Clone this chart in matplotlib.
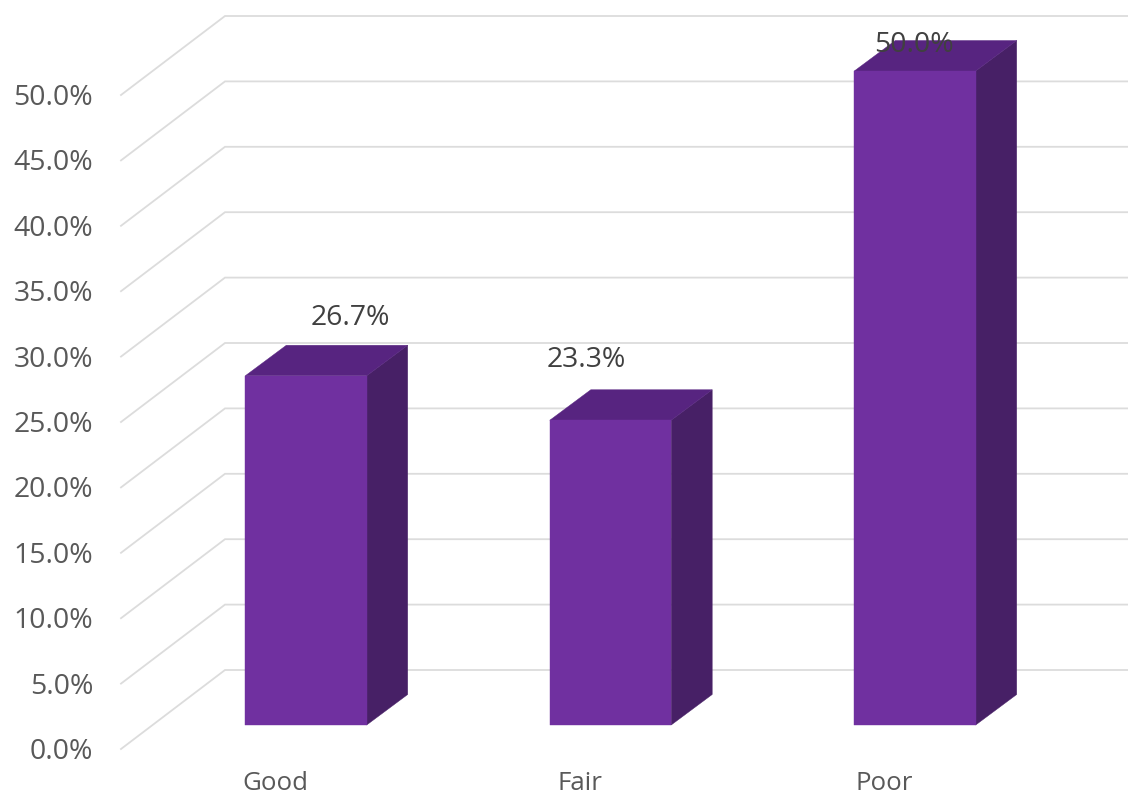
import matplotlib
matplotlib.use("Agg")
import matplotlib.pyplot as plt
from matplotlib.patches import Polygon

categories = ["Good", "Fair", "Poor"]
values = [26.7, 23.3, 50.0]
value_labels = ["26.7%", "23.3%", "50.0%"]
ticks = [0, 5, 10, 15, 20, 25, 30, 35, 40, 45, 50]

W, H = 1128, 796
PX_X = 304.5            # pixels per category
PX_Y = 13.08            # pixels per percentage point
X0, Y0 = 306.0, 725.0   # pixel position of Good's centre and of the bar base

fig = plt.figure(figsize=(W / 100, H / 100), dpi=100)
ax = fig.add_axes([0, 0, 1, 1])
ax.set_xlim(-X0 / PX_X, (W - X0) / PX_X)
ax.set_ylim((Y0 - H) / PX_Y, Y0 / PX_Y)
ax.axis("off")

def dx(px):
    return px / PX_X

def dy(px):
    return px / PX_Y

FONT = "Open Sans"
FS = 20.4
FS_CAT = 18.6
GRID, TICK, LABEL = "#DCDCDC", "#595959", "#404040"
FRONT, TOP, SIDE = "#7030A0", "#572480", "#472066"

# gridlines: floor-edge on the left wall and horizontal on the back wall
for t in ticks:
    ax.plot([dx(121 - X0), dx(225 - X0), dx(W - X0)],
            [t + dy(725 - 749), t + dy(725 - 670), t + dy(725 - 670)],
            color=GRID, lw=1.3, zorder=1, solid_joinstyle="miter", clip_on=False)
    ax.text(dx(93 - X0), t + dy(725 - 759), f"{t:.1f}%", ha="right", va="baseline",
            family=FONT, fontsize=FS, color=TICK)

# bars as front, side and top faces
half = dx(60.7)
ddx, ddy = dx(41), dy(30.5)
for i, v in enumerate(values):
    l, r = i - half, i + half
    ax.add_patch(Polygon([(r, 0), (r + ddx, ddy), (r + ddx, v + ddy), (r, v)],
                         fc=SIDE, ec=SIDE, lw=0.3, zorder=2))
    ax.add_patch(Polygon([(l, v), (r, v), (r + ddx, v + ddy), (l + ddx, v + ddy)],
                         fc=TOP, ec=TOP, lw=0.3, zorder=2))
    ax.add_patch(Polygon([(l, 0), (r, 0), (r, v), (l, v)],
                         fc=FRONT, ec=FRONT, lw=0.3, zorder=3))

# category labels
for i, c in enumerate(categories):
    ax.text(i + dx(-31), dy(725 - 790), c, ha="center", va="baseline",
            family=FONT, fontsize=FS_CAT, color=TICK)

# value labels, as placed in the source chart
label_dx = [dx(44), dx(-24), dx(-1)]
label_dy = [dy(376 - 325), dy(421 - 368), dy(71 - 52)]
for i, (v, s) in enumerate(zip(values, value_labels)):
    ax.text(i + label_dx[i], v + label_dy[i], s, ha="center", va="baseline",
            family=FONT, fontsize=FS, color=LABEL, zorder=5)

fig.savefig("out.png", dpi=100, facecolor="white")
